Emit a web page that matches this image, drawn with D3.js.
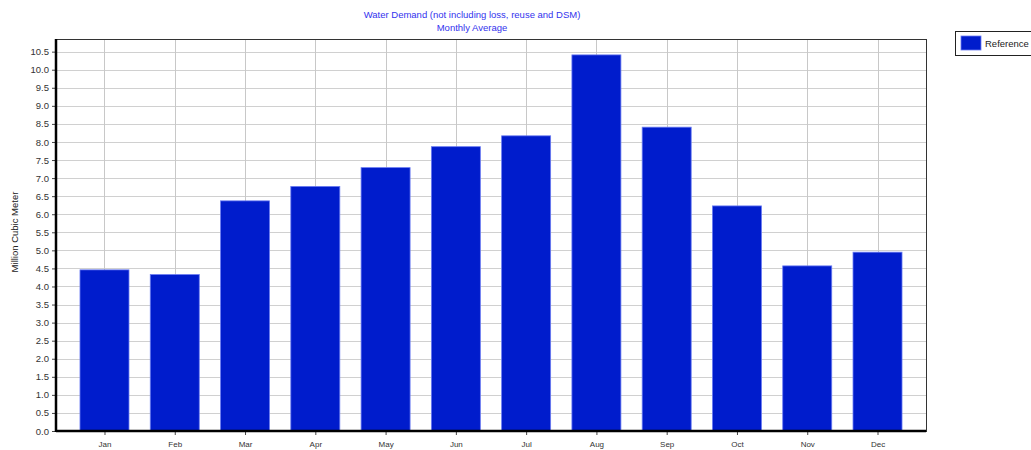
<!DOCTYPE html>
<html>
<head>
<meta charset="utf-8">
<script src="https://cdn.jsdelivr.net/npm/d3@7"></script>
<style>
  body { margin: 0; background: #fff; }
  svg { display: block; font-family: "Liberation Sans", Arial, sans-serif; }
</style>
</head>
<body>
<svg id="chart" width="1031" height="450"></svg>
<script>
var months = ['Jan', 'Feb', 'Mar', 'Apr', 'May', 'Jun', 'Jul', 'Aug', 'Sep', 'Oct', 'Nov', 'Dec']
var reference = [4.46, 4.33, 6.37, 6.77, 7.29, 7.87, 8.17, 10.41, 8.41, 6.23, 4.57, 4.95]
var yTicks = d3.range(0, 10.51, 0.5)
var titleLines = ['Water Demand (not including loss, reuse and DSM)', 'Monthly Average']
var yLabel = 'Million Cubic Meter'
var seriesName = 'Reference'

var svg = d3.select('#chart')
var plotLeft = 56, plotRight = 926, plotTop = 39, plotBottom = 431

var x = d3.scalePoint()
          .domain(months)
          .range([plotLeft, plotRight])
          .padding(0.69)
var y = d3.scaleLinear()
          .domain([0, 10.85])
          .range([plotBottom, plotTop])

// grid
var grid = svg.append('g')
grid.selectAll('line.h')
    .data(yTicks)
    .enter()
    .append('line')
    .attr('x1', plotLeft).attr('x2', plotRight)
    .attr('y1', function(d) { return Math.round(y(d)) + 0.5 })
    .attr('y2', function(d) { return Math.round(y(d)) + 0.5 })
    .attr('stroke', '#d0d0d0')
grid.selectAll('line.v')
    .data(months)
    .enter()
    .append('line')
    .attr('x1', function(d) { return Math.round(x(d)) + 0.5 })
    .attr('x2', function(d) { return Math.round(x(d)) + 0.5 })
    .attr('y1', plotTop).attr('y2', plotBottom)
    .attr('stroke', '#c8c8c8')

// frame
svg.append('rect')
   .attr('x', plotLeft + 0.5).attr('y', plotTop + 0.5)
   .attr('width', plotRight - plotLeft).attr('height', plotBottom - plotTop)
   .attr('fill', 'none')
   .attr('stroke', '#333')

// bars
var barWidth = 49
svg.selectAll('rect.bar')
   .data(reference)
   .enter()
   .append('rect')
   .attr('class', 'bar')
   .attr('x', function(d, i) { return x(months[i]) - barWidth / 2 })
   .attr('y', function(d) { return y(d) })
   .attr('width', barWidth)
   .attr('height', function(d) { return plotBottom - y(d) })
   .attr('fill', '#001ccc')
   .attr('stroke', '#6a7cf2')
   .attr('stroke-width', 0.8)

// axes
var yAxis = svg.append('g')
               .attr('transform', 'translate(' + plotLeft + ',0)')
               .call(d3.axisLeft(y).tickValues(yTicks).tickSize(4).tickPadding(3)
                       .tickFormat(d3.format('.1f')))
yAxis.select('.domain').remove()
yAxis.selectAll('text').attr('font-size', 9.5).attr('fill', '#333')
     .style('font-family', '"Liberation Sans", Arial, sans-serif')
yAxis.selectAll('line').attr('stroke', '#444')

var xAxis = svg.append('g')
               .attr('transform', 'translate(0,' + plotBottom + ')')
               .call(d3.axisBottom(x).tickSize(4).tickPadding(6))
xAxis.select('.domain').remove()
xAxis.selectAll('text').attr('font-size', 8).attr('fill', '#333')
     .style('font-family', '"Liberation Sans", Arial, sans-serif')
xAxis.selectAll('line').attr('stroke', '#444')

svg.append('line')
   .attr('x1', plotLeft).attr('x2', plotLeft)
   .attr('y1', plotTop).attr('y2', plotBottom + 1)
   .attr('stroke', '#000').attr('stroke-width', 2.5)
svg.append('line')
   .attr('x1', plotLeft).attr('x2', plotRight)
   .attr('y1', plotBottom).attr('y2', plotBottom)
   .attr('stroke', '#000').attr('stroke-width', 2.5)

// titles
svg.selectAll('text.title')
   .data(titleLines)
   .enter()
   .append('text')
   .attr('x', 472)
   .attr('y', function(d, i) { return 18 + i * 13 })
   .attr('text-anchor', 'middle')
   .attr('font-size', 9.5)
   .attr('fill', '#3333ee')
   .text(function(d) { return d })

svg.append('text')
   .attr('transform', 'translate(18,232) rotate(-90)')
   .attr('text-anchor', 'middle')
   .attr('font-size', 9.5)
   .attr('fill', '#222')
   .text(yLabel)

// legend
var legend = svg.append('g').attr('transform', 'translate(955,31)')
legend.append('rect')
      .attr('x', 0.5).attr('y', 0.5)
      .attr('width', 90).attr('height', 24)
      .attr('fill', '#fff').attr('stroke', '#222')
legend.append('rect')
      .attr('x', 6).attr('y', 5)
      .attr('width', 20).attr('height', 14)
      .attr('fill', '#001ccc').attr('stroke', '#6a7cf2').attr('stroke-width', 0.8)
legend.append('text')
      .attr('x', 30).attr('y', 16)
      .attr('font-size', 9.5)
      .attr('fill', '#222')
      .text(seriesName)
</script>
</body>
</html>
